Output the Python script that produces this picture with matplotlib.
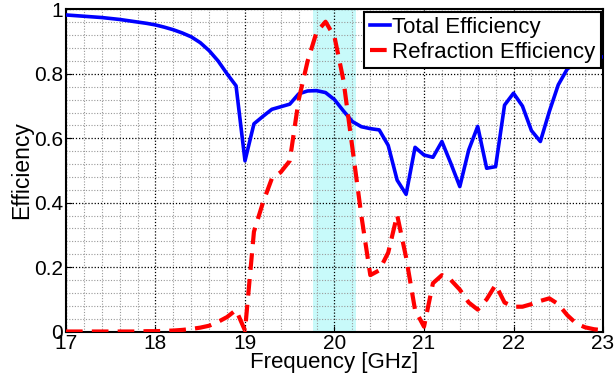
import matplotlib
matplotlib.use("Agg")
import matplotlib.pyplot as plt
from matplotlib.ticker import MultipleLocator, FuncFormatter

freq = [round(17.0 + 0.1 * i, 1) for i in range(61)]

total_eff = [
    0.983, 0.981, 0.979, 0.977, 0.975, 0.972, 0.969, 0.965, 0.961, 0.957,
    0.952, 0.945, 0.937, 0.927, 0.915, 0.897, 0.872, 0.840, 0.800, 0.763,
    0.530, 0.645, 0.668, 0.690, 0.698, 0.706, 0.738, 0.747, 0.748, 0.742,
    0.720, 0.685, 0.652, 0.636, 0.630, 0.626, 0.578, 0.470, 0.426, 0.572,
    0.548, 0.541, 0.590, 0.522, 0.450, 0.564, 0.637, 0.507, 0.512, 0.703,
    0.740, 0.700, 0.624, 0.590, 0.683, 0.766, 0.815, 0.835, 0.845, 0.850,
    0.853,
]

refr_eff = [
    0.000, 0.000, 0.000, 0.000, 0.000, 0.000, 0.000, 0.000, 0.000, 0.001,
    0.001, 0.002, 0.003, 0.005, 0.008, 0.012, 0.018, 0.030, 0.045, 0.067,
    0.003, 0.310, 0.400, 0.475, 0.495, 0.530, 0.720, 0.840, 0.930, 0.962,
    0.915, 0.780, 0.570, 0.360, 0.175, 0.190, 0.245, 0.362, 0.230, 0.067,
    0.015, 0.150, 0.175, 0.160, 0.130, 0.090, 0.068, 0.100, 0.145, 0.090,
    0.077, 0.077, 0.085, 0.095, 0.103, 0.085, 0.051, 0.025, 0.013, 0.007,
    0.004,
]

band = (19.76, 20.24)

plt.rcParams["font.family"] = ["Liberation Sans", "DejaVu Sans"]

fig = plt.figure(figsize=(6.15, 3.84), dpi=100)
ax = fig.add_axes([0.1073, 0.1367, 0.8732, 0.8386])

ax.axvspan(*band, color="#c8fafa", zorder=0.2, linewidth=0)

ax.plot(freq, total_eff, color="#0000ff", linewidth=2.6, label="Total Efficiency", zorder=3)
ax.plot(freq, refr_eff, color="#ff0000", linewidth=3.0, linestyle=(0, (4, 2.2)),
        label="Refraction Efficiency", zorder=4)

ax.set_xlim(17, 23)
ax.set_ylim(0, 1)
ax.xaxis.set_major_locator(MultipleLocator(1))
ax.xaxis.set_minor_locator(MultipleLocator(0.2))
ax.yaxis.set_major_locator(MultipleLocator(0.2))
ax.yaxis.set_minor_locator(MultipleLocator(0.04))
ax.yaxis.set_major_formatter(FuncFormatter(lambda v, p: f"{v:g}"))

ax.set_axisbelow(True)
ax.grid(which="major", color="black", linestyle=(0, (1, 1.5)), linewidth=0.9)
ax.grid(which="minor", color="#999999", linestyle=(0, (1, 1.5)), linewidth=0.8)

ax.tick_params(which="both", direction="in", labelsize=15, pad=2)
ax.tick_params(which="major", length=4)
ax.tick_params(which="minor", length=0)
for sp in ax.spines.values():
    sp.set_linewidth(1.5)

ax.set_xlabel("Frequency [GHz]", fontsize=16, labelpad=-1)
ax.set_ylabel("Efficiency", fontsize=16.5, labelpad=1)

leg = ax.legend(loc="upper right", fontsize=16, fancybox=False, framealpha=1,
                edgecolor="black", borderaxespad=0.1, handlelength=0.9,
                handletextpad=0.1, borderpad=0.25, labelspacing=0.15)
leg.get_frame().set_linewidth(1.5)

fig.savefig("out.png", dpi=100)
